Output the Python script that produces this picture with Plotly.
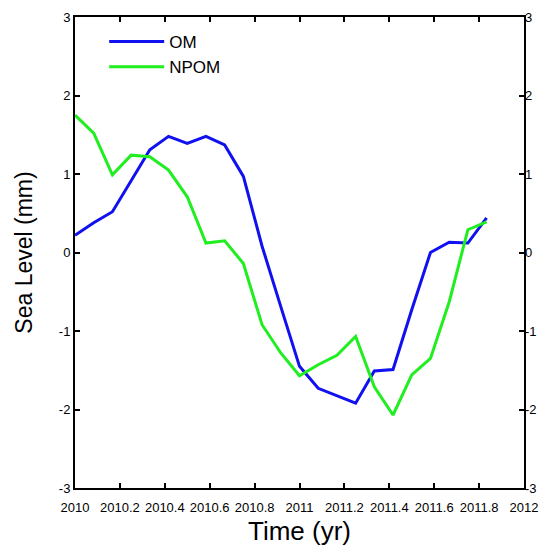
import plotly.graph_objects as go

# monthly sea level anomalies, Jan 2010 - Nov 2011
time = [2010 + k / 12 for k in range(23)]
om = [0.22, 0.38, 0.52, 0.92, 1.31, 1.48, 1.39, 1.48, 1.37, 0.97, 0.08, -0.69,
      -1.45, -1.73, -1.83, -1.92, -1.51, -1.49, -0.73, 0.0, 0.13, 0.12, 0.44]
npom = [1.75, 1.52, 0.99, 1.24, 1.22, 1.05, 0.71, 0.12, 0.15, -0.14, -0.92, -1.28,
        -1.57, -1.43, -1.31, -1.07, -1.71, -2.07, -1.56, -1.35, -0.63, 0.29, 0.39]

x_ticks = [2010, 2010.2, 2010.4, 2010.6, 2010.8, 2011, 2011.2, 2011.4, 2011.6, 2011.8, 2012]
x_labels = ["2010", "2010.2", "2010.4", "2010.6", "2010.8", "2011",
            "2011.2", "2011.4", "2011.6", "2011.8", "2012"]
y_ticks = [-3, -2, -1, 0, 1, 2, 3]
y_labels = ["-3", "-2", "-1", "0", "1", "2", "3"]

fig = go.Figure()
fig.add_trace(go.Scatter(x=time, y=om, mode="lines", name="OM",
                         line=dict(color="#1010f0", width=3)))
fig.add_trace(go.Scatter(x=time, y=npom, mode="lines", name="NPOM",
                         line=dict(color="#20ee20", width=3)))
# invisible trace so the right-hand axis gets drawn
fig.add_trace(go.Scatter(x=[time[0]], y=[0], yaxis="y2", mode="lines",
                         showlegend=False, hoverinfo="skip", line=dict(width=0)))

axis_font = dict(family="Liberation Sans, Arial", size=13, color="black")
fig.update_layout(
    width=539, height=541,
    margin=dict(l=67, r=23, t=9, b=61),
    paper_bgcolor="white", plot_bgcolor="white",
    font=dict(family="Liberation Sans, Arial", color="black"),
    xaxis=dict(
        range=[2010, 2012], tickvals=x_ticks, ticktext=x_labels,
        ticks="inside", ticklen=5, tickcolor="black", tickwidth=1.5,
        showline=True, linecolor="black", linewidth=2, mirror="ticks",
        showgrid=False, zeroline=False, automargin=False, ticklabelstandoff=6,
        tickfont=dict(family="Liberation Sans Narrow, Arial", size=13, color="black"),
        title=dict(text="Time (yr)", font=dict(size=26, color="black"), standoff=8),
    ),
    yaxis=dict(
        range=[-3, 3], tickvals=y_ticks, ticktext=y_labels,
        ticks="inside", ticklen=5, tickcolor="black", tickwidth=1.5,
        showline=True, linecolor="black", linewidth=2, mirror="ticks",
        showgrid=False, zeroline=False, automargin=False, tickfont=axis_font,
        title=dict(text="Sea Level (mm)", font=dict(size=23, color="black"), standoff=20),
    ),
    yaxis2=dict(
        range=[-3, 3], tickvals=y_ticks, ticktext=y_labels,
        overlaying="y", side="right", automargin=False,
        ticks="", showgrid=False, zeroline=False, showline=False,
        tickfont=axis_font,
    ),
    legend=dict(x=0.065, y=0.985, xanchor="left", yanchor="top",
                bgcolor="rgba(0,0,0,0)", font=dict(size=17, color="black"),
                itemwidth=55, tracegroupgap=0),
    showlegend=True,
)

fig.write_html("out.html")
